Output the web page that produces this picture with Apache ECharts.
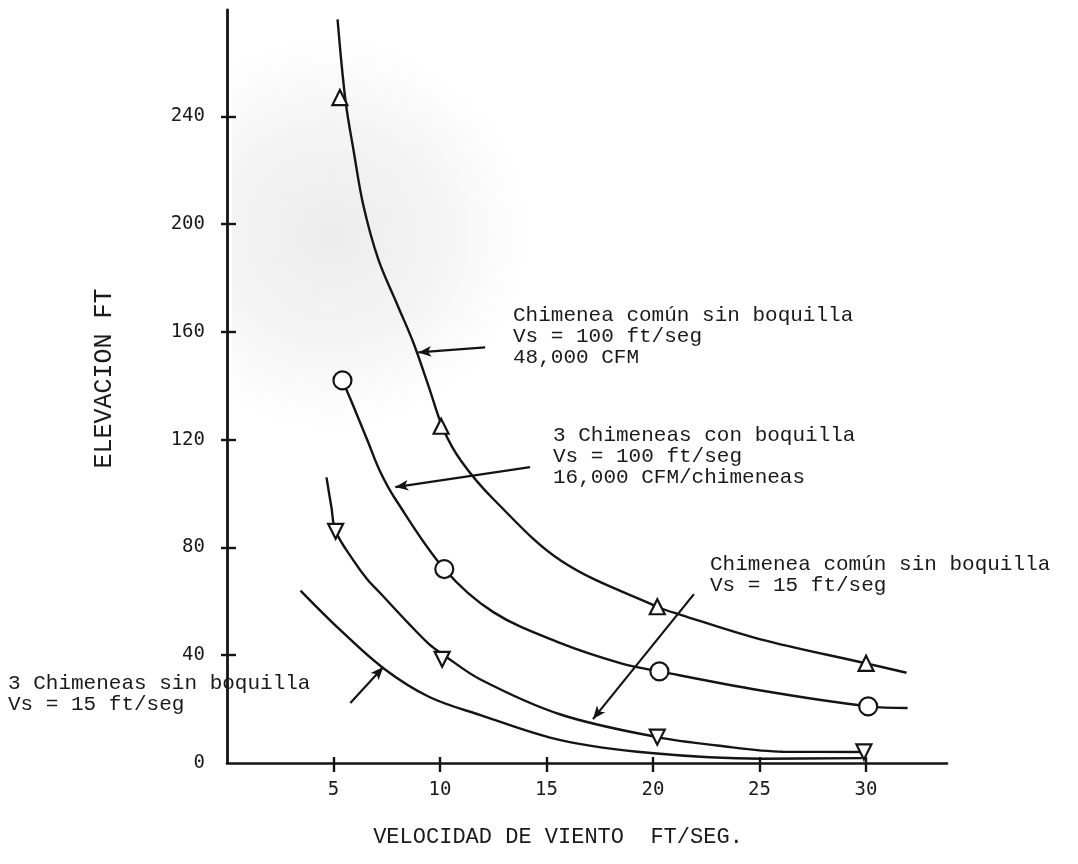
<!DOCTYPE html>
<html>
<head>
<meta charset="utf-8">
<title>Elevación vs velocidad de viento</title>
<script src="https://cdn.jsdelivr.net/npm/echarts@6/dist/echarts.min.js"></script>
<style>
  html, body { margin: 0; padding: 0; background: #ffffff; }
  #chart { width: 1078px; height: 864px; }
</style>
</head>
<body>
<div id="chart"></div>
<script>
// Tick positions and labels
const xTickValues = [5, 10, 15, 20, 25, 30];
const yLabelValues = [0, 40, 80, 120, 160, 200, 240];
const yTickValues = [40, 80, 120, 160, 200, 240];

// Curve: Chimenea común sin boquilla, Vs = 100 ft/seg, 48,000 CFM
const curveComun100 = [[5.19, 276], [5.56, 246], [5.95, 227], [6.4, 207], [7.1, 187], [8.0, 170],
  [8.75, 156], [9.5, 139], [10.15, 124], [11.0, 112], [12.5, 98], [15.7, 75], [20.2, 58], [21.3, 55],
  [25.0, 46], [30.0, 37], [31.9, 33.5]];
const pointsComun100 = [[5.3, 247], [10.05, 125], [20.2, 58], [30.0, 37]];

// Curve: 3 Chimeneas con boquilla, Vs = 100 ft/seg, 16,000 CFM/chimeneas
const curveTres100 = [[5.42, 142], [5.8, 135], [6.58, 120], [7.2, 108], [7.9, 98], [10.2, 72],
  [12.5, 56], [15.66, 44.5], [18.5, 37], [20.3, 34], [25.0, 27], [30.1, 21], [31.95, 20.4]];
const pointsTres100 = [[5.42, 142], [10.2, 72], [20.3, 34], [30.1, 21]];

// Curve: Chimenea común sin boquilla, Vs = 15 ft/seg
const curveComun15 = [[4.67, 106], [4.9, 95], [5.1, 86], [5.95, 75], [6.6, 68], [7.2, 63], [8.5, 52],
  [9.5, 44], [10.1, 40.5], [11.9, 31], [15.66, 18], [20.2, 9.6], [23.0, 6.5], [26.1, 4.2], [29.9, 4.1]];
const pointsComun15 = [[5.1, 86], [10.1, 38.5], [20.2, 9.6], [29.9, 4.1]];

// Curve: 3 Chimeneas sin boquilla, Vs = 15 ft/seg
const curveTres15 = [[3.45, 64], [5.3, 49.5], [7.34, 35.2], [9.5, 24.5], [11.9, 17.8], [15.66, 8.5],
  [19.9, 3.7], [25.1, 1.6], [29.8, 1.8]];

// Pointer arrows: [tail, tip] in axis units
const arrows = [
  [[12.12, 154.3], [8.98, 152.4]],
  [[14.23, 109.8], [7.9, 102.4]],
  [[21.92, 62.7], [17.18, 16.3]],
  [[5.79, 22.3], [7.34, 35.6]]
];

const ink = '#141414';
const typeFont = '"Liberation Mono", "DejaVu Sans Mono", monospace';
const digitFont = '"DejaVu Sans Mono", "Liberation Mono", monospace';

const chart = echarts.init(document.getElementById('chart'), null, { renderer: 'canvas' });

function curve(data) {
  return {
    type: 'line', data: data, xAxisIndex: 0, yAxisIndex: 0,
    smooth: 0.35, symbol: 'none',
    lineStyle: { color: ink, width: 2.4 }, z: 3, silent: true
  };
}
function markers(data, symbol, size, rotate) {
  return {
    type: 'scatter', data: data, xAxisIndex: 0, yAxisIndex: 0,
    symbol: symbol, symbolSize: size, symbolRotate: rotate || 0,
    itemStyle: { color: '#ffffff', borderColor: ink, borderWidth: 2.2, opacity: 1 },
    z: 5, silent: true
  };
}

function note(text, x, y) {
  return {
    type: 'text', x: x, y: y, z: 10, silent: true,
    style: { text: text, fill: '#1a1a1a', font: '21px ' + typeFont, lineHeight: 21, verticalAlign: 'top' }
  };
}

const option = {
  animation: false,
  backgroundColor: '#ffffff',
  grid: { left: 227, right: 131, top: 10, bottom: 101, containLabel: false },
  xAxis: [
    {
      type: 'value', min: 0, max: 33.8, interval: 5, position: 'bottom',
      axisLine: { show: true, lineStyle: { color: ink, width: 2.6 } },
      axisTick: { show: true, customValues: xTickValues, length: 9, lineStyle: { color: ink, width: 2.4 } },
      axisLabel: { customValues: xTickValues, margin: 18, color: '#1a1a1a', fontFamily: digitFont, fontSize: 19 },
      splitLine: { show: false },
      name: 'VELOCIDAD DE VIENTO  FT/SEG.', nameLocation: 'middle', nameGap: 63,
      nameTextStyle: { color: '#1a1a1a', fontFamily: typeFont, fontSize: 22, padding: [0, 58, 0, 0] }
    },
    {
      type: 'value', min: 0, max: 33.8, interval: 5, position: 'bottom', gridIndex: 0,
      axisLine: { show: false },
      axisTick: { show: true, inside: true, customValues: xTickValues, length: 6, lineStyle: { color: ink, width: 2.4 } },
      axisLabel: { show: false }, splitLine: { show: false }
    }
  ],
  yAxis: [
    {
      type: 'value', min: 0, max: 279.5, interval: 40, position: 'left',
      axisLine: { show: true, lineStyle: { color: ink, width: 2.8 } },
      axisTick: { show: true, customValues: yTickValues, length: 6, lineStyle: { color: ink, width: 2.4 } },
      axisLabel: { customValues: yLabelValues, margin: 22, color: '#1a1a1a', fontFamily: digitFont, fontSize: 19 },
      splitLine: { show: false },
      name: 'ELEVACION FT', nameLocation: 'middle', nameGap: 110, nameRotate: 90,
      nameTextStyle: { color: '#1a1a1a', fontFamily: typeFont, fontSize: 25, padding: [0, 0, 0, 16] }
    },
    {
      type: 'value', min: 0, max: 279.5, interval: 40, position: 'left', gridIndex: 0,
      axisLine: { show: false },
      axisTick: { show: true, inside: true, customValues: yTickValues, length: 9, lineStyle: { color: ink, width: 2.4 } },
      axisLabel: { show: false }, splitLine: { show: false }
    }
  ],
  graphic: [
    // faint stippled shading of the original sheet, upper left of the plot
    {
      type: 'rect', z: -10, silent: true,
      shape: { x: 232, y: 0, width: 330, height: 520 },
      style: {
        fill: new echarts.graphic.RadialGradient(0.3, 0.45, 0.6, [
          { offset: 0, color: 'rgba(0,0,0,0.075)' },
          { offset: 0.55, color: 'rgba(0,0,0,0.045)' },
          { offset: 1, color: 'rgba(0,0,0,0)' }
        ])
      }
    },
    note('Chimenea común sin boquilla\nVs = 100 ft/seg\n48,000 CFM', 513, 305),
    note('3 Chimeneas con boquilla\nVs = 100 ft/seg\n16,000 CFM/chimeneas', 553, 425),
    note('Chimenea común sin boquilla\nVs = 15 ft/seg', 710, 554),
    note('3 Chimeneas sin boquilla\nVs = 15 ft/seg', 8, 673)
  ],
  series: [
    curve(curveComun100),
    curve(curveTres100),
    curve(curveComun15),
    curve(curveTres15),
    markers(pointsComun100, 'triangle', 15, 0),
    markers(pointsTres100, 'circle', 18, 0),
    markers(pointsComun15, 'triangle', 15, 180),
    {
      type: 'scatter', data: [], xAxisIndex: 0, yAxisIndex: 0, silent: true,
      markLine: {
        silent: true, animation: false,
        symbol: ['none', 'arrow'], symbolSize: [8, 13],
        lineStyle: { color: ink, width: 2.2, type: 'solid' },
        label: { show: false },
        data: arrows.map(a => [{ coord: a[0] }, { coord: a[1] }])
      }
    }
  ]
};

chart.setOption(option);
</script>
</body>
</html>
